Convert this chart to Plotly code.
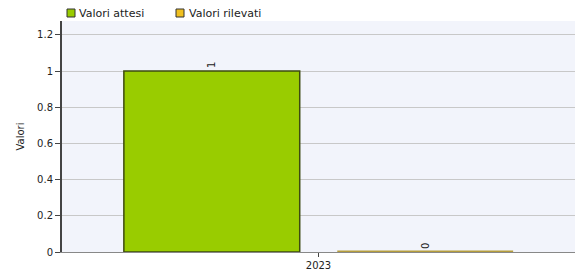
import plotly.graph_objects as go

categories = ["2023"]
series_names = ["Valori attesi", "Valori rilevati"]
valori_attesi = [1]
valori_rilevati = [0]
colors = ["#99cc00", "#cdb448"]
line_colors = ["#3d4a10", "#b59d3c"]
line_widths = [1.5, 3]
y_ticks = [0, 0.2, 0.4, 0.6, 0.8, 1.0, 1.2]
y_tick_labels = ["0", "0.2", "0.4", "0.6", "0.8", "1", "1.2"]

font_family = "DejaVu Sans, Verdana, sans-serif"
W, H = 579, 280
ML, MR, MT, MB = 62, 4, 21, 28
PW, PH = W - ML - MR, H - MT - MB

def px_x(x):
    return (x - ML) / PW

def px_y(y):
    return (H - MB - y) / PH

fig = go.Figure()
for name, vals, c, lc, lw in zip(series_names, [valori_attesi, valori_rilevati], colors, line_colors, line_widths):
    fig.add_trace(go.Bar(
        x=categories, y=vals, name=name,
        marker=dict(color=c, line=dict(color=lc, width=lw)),
        text=[str(v) for v in vals], textposition="outside", textangle=-90,
        textfont=dict(size=10, color="#222222", family=font_family),
        cliponaxis=False, showlegend=False,
    ))

# custom legend (pixel-placed, paper coordinates)
legend_pos = [(67, 79), (176, 189)]
legend_fill = ["#99cc00", "#f0c020"]
for (sx, tx), name, c in zip(legend_pos, series_names, legend_fill):
    fig.add_shape(type="rect", xref="paper", yref="paper",
                  x0=px_x(sx), x1=px_x(sx + 8), y0=px_y(17), y1=px_y(9),
                  fillcolor=c, line=dict(color="#333333", width=1))
    fig.add_annotation(xref="paper", yref="paper", x=px_x(tx - 2), y=px_y(13),
                       xanchor="left", yanchor="middle", text=name, showarrow=False,
                       font=dict(size=11, family=font_family, color="#222222"))

fig.update_layout(
    width=W, height=H,
    margin=dict(l=ML, r=MR, t=MT, b=MB, autoexpand=False),
    paper_bgcolor="white",
    plot_bgcolor="#f2f4fb",
    barmode="group",
    bargap=0.168,
    bargroupgap=0.176,
    font=dict(family=font_family, size=10, color="#222222"),
    showlegend=False,
    xaxis=dict(type="category", showgrid=False, ticks="outside", ticklen=4,
               tickcolor="#444444", showline=True, linecolor="#888888", linewidth=1,
               tickfont=dict(size=10), automargin=False),
    yaxis=dict(range=[0, 1.277], tickvals=y_ticks, ticktext=y_tick_labels,
               showgrid=True, gridcolor="#c8c8c8", gridwidth=1, zeroline=False,
               ticks="outside", ticklen=5, tickcolor="#444444",
               showline=True, linecolor="#444444", linewidth=2,
               tickfont=dict(size=10), automargin=False,
               title=dict(text="Valori", font=dict(size=10), standoff=11)),
)

fig.write_html("out.html", config={"displayModeBar": False},
               post_script="document.body.style.margin='0';")
